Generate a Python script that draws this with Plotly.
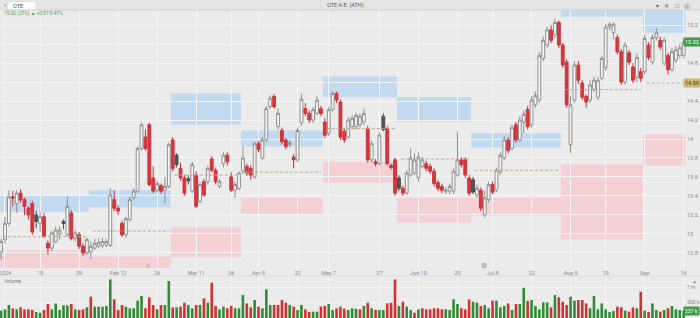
import pandas as pd
import plotly.graph_objects as go

# ---------------- data ----------------
holidays = ["2024-01-01", "2024-03-18", "2024-03-25", "2024-03-29", "2024-04-01",
            "2024-05-01", "2024-05-03", "2024-05-06", "2024-05-20", "2024-06-24", "2024-08-15"]
dates = [d.strftime("%Y-%m-%d") for d in pd.bdate_range("2023-12-29", "2024-09-16")
         if d.strftime("%Y-%m-%d") not in holidays]

opens = [12.81, 12.94, 13.11, 13.39, 13.32, 13.43, 13.36, 13.27, 13.32, 13.20,
         13.11, 13.18, 12.90, 12.85, 12.92, 13.00, 13.13, 12.99, 13.22, 12.95,
         12.99, 12.87, 12.80, 12.81, 12.85, 12.87, 12.88, 12.88, 12.88, 13.36,
         13.27, 13.11, 12.99, 13.15, 13.38, 13.45, 13.90, 14.02, 14.15, 13.59,
         13.46, 13.51, 13.46, 13.50, 13.99, 13.83, 13.69, 13.59, 13.58, 13.45,
         13.62, 13.34, 13.55, 13.55, 13.79, 13.67, 13.50, 13.74, 13.83, 13.60,
         13.46, 13.48, 13.66, 13.71, 13.69, 13.60, 13.95, 13.80, 13.99, 14.34,
         14.45, 14.13, 14.09, 13.99, 13.94, 13.81, 13.78, 14.17, 14.32, 14.27,
         14.20, 14.27, 14.32, 14.18, 14.06, 14.31, 14.48, 14.39, 14.08, 14.02,
         14.13, 14.13, 14.15, 14.18, 14.11, 13.78, 13.76, 13.74, 14.24, 14.11,
         13.72, 13.78, 13.59, 13.48, 13.43, 13.62, 13.64, 13.59, 13.71, 13.74,
         13.71, 13.66, 13.54, 13.50, 13.45, 13.45, 13.45, 13.62, 13.78, 13.78,
         13.59, 13.57, 13.41, 13.46, 13.20, 13.36, 13.52, 13.46, 13.65, 13.80,
         13.99, 13.90, 14.15, 13.99, 14.18, 14.31, 14.15, 14.36, 14.41, 14.85,
         14.99, 15.15, 15.10, 15.23, 14.99, 14.81, 13.94, 14.41, 14.78, 14.59,
         14.45, 14.41, 14.52, 14.44, 14.64, 14.75, 15.18, 15.12, 15.07, 14.92,
         14.60, 14.91, 14.76, 14.65, 14.71, 14.71, 14.99, 14.81, 15.07, 15.04,
         14.80, 14.88, 14.73, 14.83, 14.88, 14.88]

highs = [12.95, 13.18, 13.46, 13.45, 13.46, 13.47, 13.38, 13.29, 13.35, 13.24,
         13.23, 13.22, 12.93, 13.03, 13.08, 13.08, 13.15, 13.39, 13.25, 13.04,
         13.02, 12.90, 12.96, 12.92, 12.95, 12.95, 12.96, 12.95, 13.48, 13.46,
         13.30, 13.14, 13.18, 13.39, 13.48, 13.92, 14.17, 14.10, 14.17, 13.71,
         13.56, 13.53, 13.60, 13.96, 14.02, 13.85, 13.75, 13.62, 13.62, 13.76,
         13.66, 13.55, 13.58, 13.72, 13.82, 13.70, 13.58, 13.86, 13.86, 13.65,
         13.55, 13.66, 13.92, 13.74, 13.72, 13.97, 13.98, 14.02, 14.35, 14.46,
         14.47, 14.32, 14.12, 14.01, 13.99, 13.84, 14.12, 14.48, 14.38, 14.30,
         14.34, 14.45, 14.35, 14.22, 14.34, 14.50, 14.50, 14.42, 14.11, 14.23,
         14.25, 14.28, 14.27, 14.32, 14.14, 13.98, 13.79, 14.07, 14.27, 14.14,
         13.74, 13.80, 13.62, 13.51, 13.67, 13.90, 13.85, 13.86, 13.81, 13.77,
         13.74, 13.69, 13.57, 13.53, 13.49, 13.53, 13.69, 14.08, 13.81, 13.81,
         13.62, 13.60, 13.52, 13.49, 13.46, 13.55, 13.55, 13.70, 13.86, 14.03,
         14.02, 14.15, 14.18, 14.24, 14.30, 14.35, 14.45, 14.50, 14.92, 15.08,
         15.18, 15.20, 15.27, 15.25, 15.01, 14.84, 14.45, 14.82, 14.82, 14.62,
         14.47, 14.62, 14.66, 14.65, 14.88, 15.21, 15.23, 15.23, 15.10, 14.95,
         15.02, 14.94, 14.80, 14.90, 14.75, 15.10, 15.02, 15.10, 15.17, 15.08,
         15.07, 14.91, 14.96, 14.98, 15.00, 15.05]

lows = [12.73, 12.90, 13.08, 13.29, 13.22, 13.33, 13.20, 13.15, 12.99, 13.06,
        13.02, 12.96, 12.78, 12.82, 12.90, 12.94, 13.05, 12.97, 12.93, 12.92,
        12.84, 12.77, 12.78, 12.73, 12.83, 12.85, 12.85, 12.86, 12.86, 13.24,
        13.20, 12.97, 12.96, 13.13, 13.36, 13.43, 13.88, 13.88, 13.50, 13.43,
        13.44, 13.42, 13.32, 13.48, 13.66, 13.70, 13.56, 13.40, 13.52, 13.43,
        13.27, 13.32, 13.39, 13.52, 13.65, 13.52, 13.48, 13.70, 13.72, 13.44,
        13.38, 13.46, 13.63, 13.61, 13.57, 13.58, 13.86, 13.78, 13.97, 14.32,
        14.32, 14.10, 13.94, 13.89, 13.91, 13.69, 13.76, 14.14, 14.24, 14.17,
        14.17, 14.25, 14.24, 14.01, 14.03, 14.29, 14.38, 13.99, 13.96, 14.00,
        14.10, 14.10, 14.12, 14.15, 13.75, 13.75, 13.71, 13.72, 14.08, 13.72,
        13.68, 13.40, 13.45, 13.40, 13.41, 13.60, 13.62, 13.55, 13.69, 13.66,
        13.63, 13.50, 13.45, 13.43, 13.42, 13.42, 13.42, 13.60, 13.70, 13.59,
        13.40, 13.42, 13.38, 13.24, 13.17, 13.33, 13.42, 13.44, 13.62, 13.78,
        13.85, 13.88, 13.96, 13.97, 14.06, 14.10, 14.12, 14.33, 14.38, 14.82,
        14.96, 15.01, 15.06, 14.96, 14.75, 14.33, 13.85, 14.38, 14.58, 14.41,
        14.33, 14.38, 14.50, 14.41, 14.62, 14.72, 15.15, 15.05, 14.89, 14.57,
        14.57, 14.78, 14.59, 14.60, 14.60, 14.68, 14.83, 14.78, 15.04, 14.94,
        14.77, 14.68, 14.71, 14.80, 14.85, 14.85]

closes = [12.92, 13.11, 13.39, 13.38, 13.43, 13.36, 13.29, 13.20, 13.02, 13.13,
          13.18, 12.97, 12.85, 13.01, 13.04, 13.04, 13.11, 13.29, 12.95, 13.01,
          12.87, 12.80, 12.94, 12.87, 12.90, 12.91, 12.92, 12.92, 13.41, 13.27,
          13.24, 12.99, 13.16, 13.36, 13.45, 13.90, 14.15, 13.90, 13.52, 13.45,
          13.53, 13.45, 13.50, 13.94, 13.69, 13.73, 13.59, 13.43, 13.56, 13.73,
          13.29, 13.52, 13.41, 13.69, 13.67, 13.55, 13.55, 13.83, 13.76, 13.46,
          13.52, 13.64, 13.80, 13.64, 13.62, 13.95, 13.89, 13.99, 14.32, 14.43,
          14.34, 14.27, 13.97, 13.92, 13.96, 13.78, 14.09, 14.42, 14.27, 14.20,
          14.31, 14.41, 14.27, 14.04, 14.31, 14.48, 14.41, 14.02, 13.99, 14.20,
          14.22, 14.25, 14.24, 14.27, 13.78, 13.95, 13.74, 14.04, 14.10, 13.74,
          13.70, 13.43, 13.48, 13.43, 13.64, 13.80, 13.78, 13.81, 13.78, 13.69,
          13.66, 13.53, 13.48, 13.46, 13.46, 13.50, 13.66, 13.78, 13.73, 13.62,
          13.43, 13.44, 13.48, 13.27, 13.38, 13.52, 13.44, 13.67, 13.83, 13.99,
          13.88, 14.12, 13.99, 14.20, 14.26, 14.13, 14.41, 14.46, 14.88, 15.04,
          15.15, 15.04, 15.23, 14.99, 14.78, 14.36, 14.36, 14.78, 14.62, 14.44,
          14.39, 14.57, 14.62, 14.62, 14.85, 15.18, 15.21, 15.21, 14.92, 14.60,
          14.99, 14.81, 14.62, 14.86, 14.64, 15.06, 14.86, 15.07, 15.12, 14.97,
          15.04, 14.73, 14.92, 14.94, 14.96, 15.02]

volumes_k = [237, 280, 419, 312, 280, 344, 280, 280, 258, 194,
             172, 258, 452, 280, 473, 258, 409, 409, 452, 280,
             258, 280, 344, 688, 366, 366, 366, 387, 1247, 602,
             258, 419, 366, 312, 312, 559, 710, 312, 667, 419,
             280, 419, 419, 1193, 344, 344, 366, 495, 419, 312,
             419, 419, 634, 495, 1140, 387, 280, 366, 312, 387,
             312, 312,
             742, 473, 344, 581, 366, 312, 925, 419, 419, 419,
             581, 495, 419, 366, 258, 419, 280, 194, 204, 204,
             366, 387, 452, 258, 312, 366, 301, 258, 312, 301,
             280, 387, 495, 312, 258, 258, 258, 473, 495, 1247,
             387, 527, 366, 258, 172, 280, 312, 280, 280, 312,
             312, 280, 280, 258, 602, 452, 312, 280, 602,
             527, 495, 387, 419, 312, 559, 559, 344, 387, 473,
             258, 452, 452, 978, 548, 581, 387, 280, 505, 505,
             344, 742, 667, 527, 419, 688, 559, 581, 581, 473,
             312, 710, 280, 473, 280, 194, 226, 366, 344, 237,
             204, 344, 312, 849, 237, 194, 473, 258, 204, 258,
             312, 387, 280, 258, 237]

# monthly range zones
period_start = ["2023-12-29", "2024-02-01", "2024-03-01", "2024-04-02", "2024-05-02",
                "2024-06-03", "2024-07-01", "2024-08-01", "2024-09-02"]
upper_top = [13.41, 13.46, 14.48, 14.09, 14.66, 14.44, 14.06, 15.45, 15.45]
upper_bot = [13.23, 13.28, 14.15, 13.92, 14.44, 14.18, 13.91, 15.29, 15.12]
lower_top = [12.83, 12.76, 13.07, 13.38, 13.76, 13.38, 13.38, 13.73, 14.05]
lower_bot = [12.50, 12.50, 12.75, 13.20, 13.54, 13.12, 13.19, 12.94, 13.72]
pivot = [12.97, 13.03, 13.62, 13.65, 14.11, 13.79, 13.67, 14.52, 14.59]

tick_dates = ["2024-01-02", "2024-01-15", "2024-01-29", "2024-02-12", "2024-02-26",
              "2024-03-11", "2024-03-26", "2024-04-08", "2024-04-22", "2024-05-07",
              "2024-05-27", "2024-06-10", "2024-06-25", "2024-07-08", "2024-07-22",
              "2024-08-05", "2024-08-19", "2024-09-02", "2024-09-16"]
tick_labels = ["2024", "15", "29", "Feb 12", "26", "Mar 11", "26", "Apr 8", "22", "May 7",
               "27", "Jun 10", "25", "Jul 8", "22", "Aug 5", "19", "Sep", "16"]
price_ticks = [12.8, 13.0, 13.2, 13.4, 13.6, 13.8, 14.0, 14.2, 14.4, 14.6, 14.8, 15.0, 15.2]

# ---------------- styling ----------------
W, H = 700, 318
R = 14
PW = W - R
BG = "#ebebeb"
GRID = "#f5f5f5"
TXT = "#8a8a8a"
FONT = "Roboto, Arial, sans-serif"


def px(x):
    return x / PW


def py(y):
    return 1 - y / H


n = len(dates)
prev = [closes[0]] + closes[:-1]
hollow_i = [i for i in range(n) if closes[i] >= opens[i]]
red_i = [i for i in range(n) if closes[i] < opens[i] and closes[i] < prev[i]]
dark_i = [i for i in range(n) if closes[i] < opens[i] and closes[i] >= prev[i]]


def sub(arr, idx):
    s = set(idx)
    return [arr[i] if i in s else None for i in range(n)]


fig = go.Figure()


def candle(idx, fill, line):
    style = dict(fillcolor=fill, line=dict(color=line, width=1))
    fig.add_trace(go.Candlestick(
        x=dates, open=sub(opens, idx), high=sub(highs, idx), low=sub(lows, idx),
        close=sub(closes, idx), increasing=style, decreasing=style,
        whiskerwidth=0, hoverinfo="skip", xaxis="x", yaxis="y"))


candle(hollow_i, "#f7f7f7", "#8f8f8f")
candle(red_i, "#d8383e", "#cc3238")
candle(dark_i, "#555555", "#4a4a4a")

vol_colors = ["#2f8c35" if closes[i] >= prev[i] else "#d63030" for i in range(n)]
fig.add_trace(go.Bar(x=dates, y=[v * 1000 for v in volumes_k], marker_color=vol_colors,
                     marker_line_width=0, width=0.66, hoverinfo="skip",
                     xaxis="x2", yaxis="y2"))

shapes = []
bounds = [dates.index(d) - 0.5 for d in period_start] + [n - 0.5]
for k in range(len(period_start)):
    x0, x1 = bounds[k], bounds[k + 1]
    shapes.append(dict(type="rect", xref="x", yref="y", x0=x0, x1=x1,
                       y0=upper_bot[k], y1=upper_top[k], fillcolor="#c2daf0",
                       line=dict(width=0), layer="below"))
    shapes.append(dict(type="rect", xref="x", yref="y", x0=x0, x1=x1,
                       y0=lower_bot[k], y1=lower_top[k], fillcolor="#f4cfd3",
                       line=dict(width=0), layer="below"))
    shapes.append(dict(type="line", xref="x", yref="y", x0=x0 + 1, x1=x1 - 0.5,
                       y0=pivot[k], y1=pivot[k],
                       line=dict(color="#baa98a", width=1, dash="3px,2px"), layer="above"))

# toolbar band and separators
shapes.append(dict(type="rect", xref="paper", yref="paper", x0=px(0), x1=px(W),
                   y0=py(10), y1=py(0), fillcolor="#e5e5e5", line=dict(width=0)))
shapes.append(dict(type="line", xref="paper", yref="paper", x0=px(0), x1=px(W),
                   y0=py(10), y1=py(10), line=dict(color="#d2d2d2", width=1)))
shapes.append(dict(type="rect", xref="paper", yref="paper", x0=px(8), x1=px(36),
                   y0=py(9.5), y1=py(1.5), fillcolor="#ffffff",
                   line=dict(color="#d0d0d0", width=0.6)))
shapes.append(dict(type="line", xref="paper", yref="paper", x0=px(0), x1=px(W),
                   y0=py(276), y1=py(276), line=dict(color="#dcdcdc", width=1)))

ann = []


def note(x, y, text, size=5.5, color=TXT, anchor="left", **kw):
    ann.append(dict(x=px(x), y=py(y), xref="paper", yref="paper", text=text,
                    showarrow=False, xanchor=anchor, yanchor="middle",
                    font=dict(size=size, color=color, family=FONT), **kw))


note(2, 5.5, "‹", size=7, color="#555")
note(11, 5.5, "OTE", size=5.5, color="#444")
note(345, 5.5, "OTE A.E. (ATH)", size=5.5, color="#555", anchor="center")
note(2, 14, "15.02 (27%) ▲ +0.07 0.47%", size=4.8, color="#4c9a4c")
note(657, 5.5, "▾", size=6, color="#666", anchor="center")
note(666, 5.5, "✕", size=5.5, color="#666", anchor="center")
note(677, 5.5, "□", size=6.5, color="#666", anchor="center")
note(687, 5.5, "◎", size=6.5, color="#666", anchor="center")
note(2, 281, "Volume", size=5, color="#777")
note(694, 281, "×", size=6, color="#777", anchor="center")
note(148, 266, "⌂", size=7, color="#888", anchor="center")
note(484, 266, "⚙", size=7, color="#888", anchor="center")

# price / volume tags on the right edge
tags = [closes[-1], pivot[-1]]
ann.append(dict(x=1, xref="paper", y=closes[-1], yref="y", text=f"{closes[-1]:.2f}",
                showarrow=False, xanchor="left", xshift=-3, bgcolor="#3e9c42",
                borderpad=1, font=dict(size=5.5, color="#ffffff", family=FONT)))
ann.append(dict(x=1, xref="paper", y=pivot[-1], yref="y", text=f"{pivot[-1]:.2f}",
                showarrow=False, xanchor="left", xshift=-3, bgcolor="#cdb968",
                borderpad=1, font=dict(size=5.5, color="#333333", family=FONT)))
ann.append(dict(x=1, xref="paper", y=volumes_k[-1] * 1000, yref="y2",
                text=f"{volumes_k[-1]} k", showarrow=False, xanchor="left", xshift=-3,
                bgcolor="#3e9c42", borderpad=1,
                font=dict(size=5, color="#ffffff", family=FONT)))

# price tick labels hidden where the tags sit on top of them
price_text = ["" if any(abs(t - g) < 0.08 for g in tags) else f"{t:g}" for t in price_ticks]

axis_font = dict(size=5.5, color=TXT, family=FONT)
fig.update_layout(
    width=W, height=H, margin=dict(l=0, r=R, t=0, b=0),
    paper_bgcolor=BG, plot_bgcolor=BG, showlegend=False, hovermode=False,
    boxgap=0.28, boxgroupgap=0,
    font=dict(family=FONT, size=6, color=TXT),
    shapes=shapes, annotations=ann,
    xaxis=dict(type="category", domain=[0, 1], anchor="y", range=[-0.28, 175.6],
               tickvals=tick_dates, ticktext=tick_labels, showgrid=True, gridcolor=GRID,
               gridwidth=1, ticks="", showline=False, zeroline=False, tickangle=0,
               rangeslider=dict(visible=False), tickfont=axis_font, automargin=False),
    xaxis2=dict(type="category", matches="x", anchor="y2", domain=[0, 1],
                tickvals=tick_dates, showticklabels=False, showgrid=True, gridcolor=GRID,
                ticks="", showline=False, zeroline=False,
                rangeslider=dict(visible=False), automargin=False),
    yaxis=dict(domain=[50 / H, 308 / H], range=[12.64, 15.36], side="right",
               tickvals=price_ticks, ticktext=price_text, showgrid=True, gridcolor=GRID,
               zeroline=False, ticks="", showline=False, tickfont=axis_font,
               automargin=False),
    yaxis2=dict(domain=[0, 42 / H], range=[0, 1355000], side="right",
                tickvals=[500000, 1000000], ticktext=["500 k", "1 m"], showgrid=True,
                gridcolor=GRID, zeroline=False, ticks="", showline=False,
                tickfont=dict(size=5, color=TXT, family=FONT), automargin=False),
)

fig.write_html("out.html")
